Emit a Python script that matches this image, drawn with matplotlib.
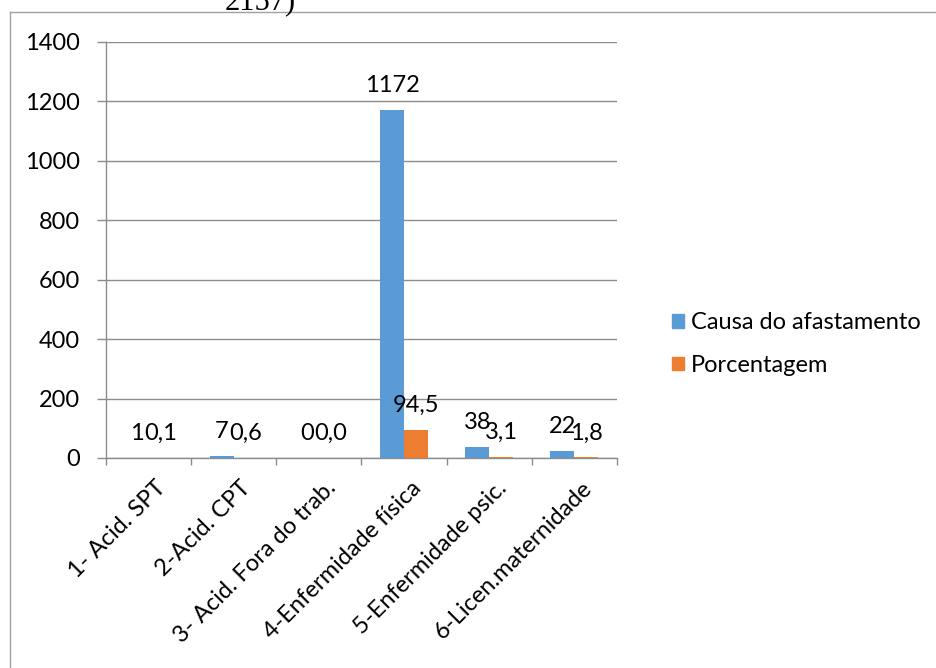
import numpy as np
import matplotlib.pyplot as plt
from matplotlib.lines import Line2D
from matplotlib.patches import Patch
from matplotlib.transforms import ScaledTranslation

plt.rcParams['font.family'] = ['Lato', 'DejaVu Sans']

# causes of leave and their share of the total
categorias = ['1- Acid. SPT', '2-Acid. CPT', '3- Acid. Fora do trab.',
              '4-Enfermidade física', '5-Enfermidade psic.', '6-Licen.maternidade']
causa = [1, 7, 0, 1172, 38, 22]
porcentagem = [0.1, 0.6, 0.0, 94.5, 3.1, 1.8]
yticks = [0, 200, 400, 600, 800, 1000, 1200, 1400]

azul = '#5B9BD5'
laranja = '#ED7D31'
cinza = '#8c8c8c'
fs = 17

fig = plt.figure(figsize=(9.36, 6.68), dpi=100)
ax = fig.add_axes([106 / 936, 1 - 458 / 668, 511 / 936, 416 / 668])

x = np.arange(len(categorias))
w = 0.282
ax.bar(x - w / 2, causa, w, color=azul, label='Causa do afastamento', zorder=3)
ax.bar(x + w / 2, porcentagem, w, color=laranja, label='Porcentagem', zorder=3)

# value labels above every bar
for xi, v in zip(x, causa):
    ax.annotate(str(v), (xi - w / 2, v), xytext=(0, 13), textcoords='offset points',
                ha='center', va='baseline', fontsize=fs)
for xi, v in zip(x, porcentagem):
    ax.annotate(f'{v:.1f}'.replace('.', ','), (xi + w / 2, v), xytext=(0, 13),
                textcoords='offset points', ha='center', va='baseline', fontsize=fs)

ax.set_xlim(-0.5, len(categorias) - 0.5)
ax.set_ylim(0, 1400)
ax.set_yticks(yticks)
ax.set_yticklabels([str(t) for t in yticks], fontsize=fs)
ax.yaxis.grid(True, color=cinza, linewidth=1, zorder=0)
ax.tick_params(axis='y', direction='out', length=6.5, width=1, color=cinza, pad=12)

ax.set_xticks(x)
ax.set_xticklabels(categorias, fontsize=fs, rotation=45, ha='right', va='center',
                   rotation_mode='anchor')
ax.tick_params(axis='x', which='major', length=0, pad=19)
# nudge the slanted category names a little to the right
for lbl in ax.get_xticklabels():
    lbl.set_transform(lbl.get_transform() + ScaledTranslation(0.14, 0, fig.dpi_scale_trans))
ax.set_xticks(np.arange(-0.5, len(categorias)), minor=True)
ax.tick_params(axis='x', which='minor', direction='out', length=5, width=1, color=cinza)

for s in ['top', 'right']:
    ax.spines[s].set_visible(False)
for s in ['left', 'bottom']:
    ax.spines[s].set_color(cinza)
    ax.spines[s].set_linewidth(1)

handles = [Patch(color=azul), Patch(color=laranja)]
fig.legend(handles, ['Causa do afastamento', 'Porcentagem'], loc='center left',
           bbox_to_anchor=(672 / 936, 1 - 344 / 668), frameon=False, fontsize=fs,
           handlelength=0.5, handleheight=0.5, handletextpad=0.3, labelspacing=0.9,
           borderaxespad=0, borderpad=0)

# surrounding frame and caption fragment above it
fig.add_artist(Line2D([10 / 936, 1], [1 - 12 / 668, 1 - 12 / 668], color='#a0a0a0',
                      linewidth=1, transform=fig.transFigure))
fig.add_artist(Line2D([10 / 936, 10 / 936], [0, 1 - 12 / 668], color='#a0a0a0',
                      linewidth=1, transform=fig.transFigure))
fig.text(225 / 936, 1 - 9 / 668, '2157)', family='Liberation Serif', fontsize=22,
         va='baseline', ha='left')

fig.savefig('out.png', dpi=100)
